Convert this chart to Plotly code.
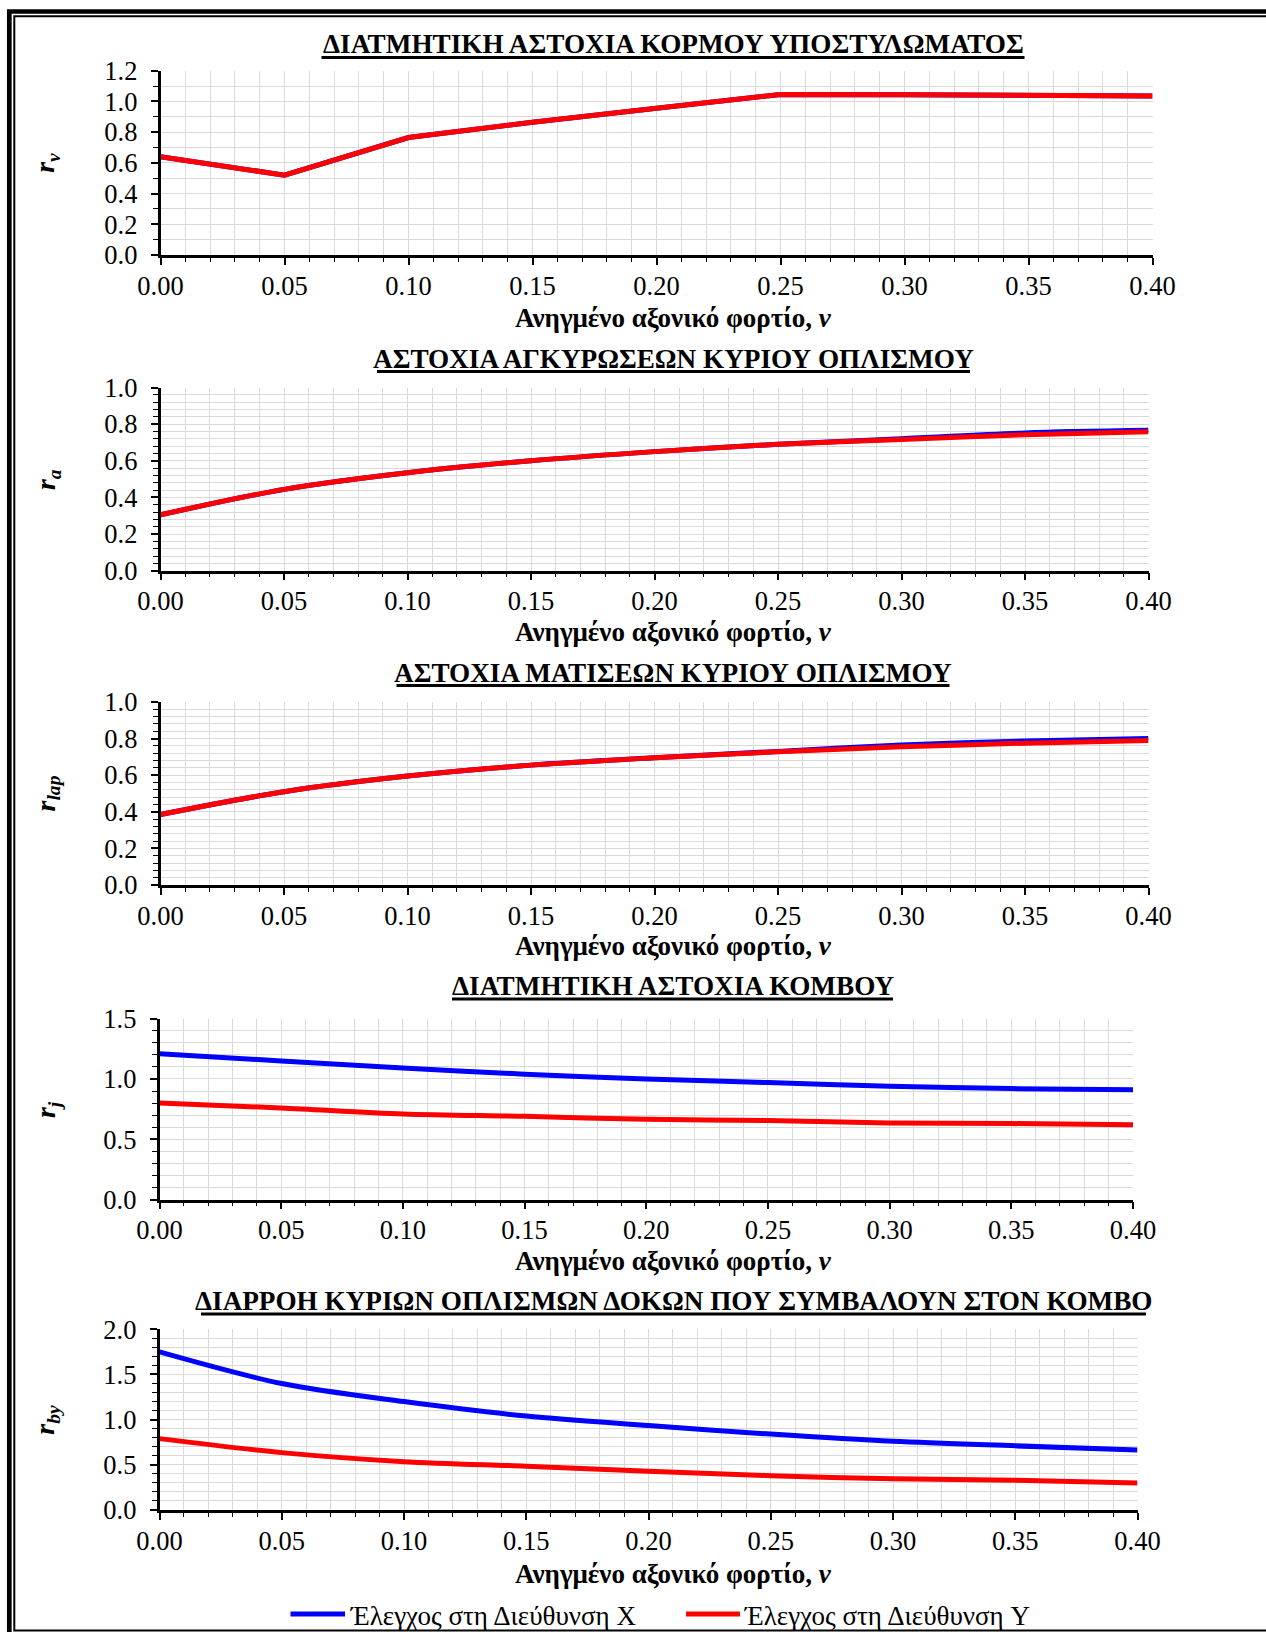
import plotly.graph_objects as go

W, H = 1266, 1632

# ---------------- data ----------------
nu = [0.00, 0.05, 0.10, 0.15, 0.20, 0.25, 0.30, 0.35, 0.40]
series_names = ["Έλεγχος στη Διεύθυνση X", "Έλεγχος στη Διεύθυνση Y"]
series_colors = ["#0000FF", "#FF0000"]

panel_titles = [
    "ΔΙΑΤΜΗΤΙΚΗ ΑΣΤΟΧΙΑ ΚΟΡΜΟΥ ΥΠΟΣΤΥΛΩΜΑΤΟΣ",
    "ΑΣΤΟΧΙΑ ΑΓΚΥΡΩΣΕΩΝ ΚΥΡΙΟΥ ΟΠΛΙΣΜΟΥ",
    "ΑΣΤΟΧΙΑ ΜΑΤΙΣΕΩΝ ΚΥΡΙΟΥ ΟΠΛΙΣΜΟΥ",
    "ΔΙΑΤΜΗΤΙΚΗ ΑΣΤΟΧΙΑ ΚΟΜΒΟΥ",
    "ΔΙΑΡΡΟΗ ΚΥΡΙΩΝ ΟΠΛΙΣΜΩΝ ΔΟΚΩΝ ΠΟΥ ΣΥΜΒΑΛΟΥΝ ΣΤΟΝ ΚΟΜΒΟ",
]
y_subscripts = ["v", "a", "lap", "j", "by"]
x_title_text = "Ανηγμένο αξονικό φορτίο, "
x_title_symbol = "ν"

rv_x = [0.640, 0.520, 0.765, 0.865, 0.955, 1.045, 1.044, 1.037, 1.035]
rv_y = [0.640, 0.520, 0.765, 0.865, 0.955, 1.045, 1.044, 1.037, 1.035]

ra_x = [0.305, 0.444, 0.535, 0.600, 0.650, 0.690, 0.720, 0.752, 0.766]
ra_y = [0.305, 0.444, 0.535, 0.600, 0.650, 0.690, 0.716, 0.742, 0.758]

rlap_x = [0.385, 0.510, 0.595, 0.655, 0.695, 0.730, 0.765, 0.787, 0.800]
rlap_y = [0.385, 0.510, 0.595, 0.655, 0.695, 0.728, 0.755, 0.775, 0.790]

rj_x = [1.21, 1.15, 1.09, 1.04, 1.00, 0.97, 0.94, 0.92, 0.91]
rj_y = [0.80, 0.76, 0.71, 0.69, 0.665, 0.655, 0.635, 0.63, 0.62]

rby_x = [1.75, 1.40, 1.20, 1.04, 0.935, 0.84, 0.76, 0.71, 0.665]
rby_y = [0.79, 0.635, 0.535, 0.485, 0.43, 0.38, 0.345, 0.33, 0.30]

panel_series = [
    (rv_x, rv_y), (ra_x, ra_y), (rlap_x, rlap_y), (rj_x, rj_y), (rby_x, rby_y)
]
y_max = [1.2, 1.0, 1.0, 1.5, 2.0]
y_major = [0.2, 0.2, 0.2, 0.5, 0.5]
y_minor = [0.1, 0.04, 0.04, 0.1, 0.1]
line_shapes = ["linear", "spline", "spline", "spline", "spline"]

# ---------------- layout geometry (pixels) ----------------
# left, right, top, bottom of each plot area; title y; x-axis title y
geom = [
    (160.5, 1152.5, 70.7, 255.0, 44.5, 318.0),
    (160.5, 1148.5, 387.5, 570.7, 358.5, 632.0),
    (160.5, 1148.5, 702.0, 885.0, 672.5, 946.0),
    (159.5, 1133.0, 1018.7, 1199.5, 986.0, 1260.5),
    (159.5, 1137.5, 1329.3, 1510.0, 1301.0, 1573.5),
]
# title underline extents (x0, x1)
underline_x = [
    (321.5, 1024.5),
    (377.0, 970.0),
    (396.5, 949.5),
    (452.0, 893.0),
    (201.0, 1146.0),
]
center_x = 673.0
ylabel_x = 47.0

FONT = "Liberation Serif"


def fx(p):
    return p / W


def fy(p):
    return 1 - p / H


fig = go.Figure()
annotations = []
shapes = []
layout_axes = {}

for i in range(5):
    L, R, T, B, ty, xty = geom[i]
    sx = "" if i == 0 else str(i + 1)
    xs, ys = panel_series[i]
    for vals, name, col in zip((xs, ys), series_names, series_colors):
        fig.add_trace(go.Scatter(
            x=nu, y=vals, mode="lines", name=name,
            line=dict(color=col, width=5, shape=line_shapes[i], smoothing=0.9),
            xaxis="x" + sx, yaxis="y" + sx, showlegend=False,
        ))
    grid = "#d9d9d9"
    layout_axes["xaxis" + sx] = dict(
        domain=[fx(L), fx(R)], anchor="y" + sx, range=[0, 0.40],
        tick0=0, dtick=0.05, tickformat=".2f",
        ticks="outside", ticklen=7, tickwidth=1.5, tickcolor="black",
        showline=True, linecolor="black", linewidth=2.5,
        showgrid=True, gridcolor=grid, gridwidth=1.3, zeroline=False,
        minor=dict(dtick=0.01, tick0=0, ticks="outside", ticklen=4, tickwidth=1.2,
                   tickcolor="black", showgrid=True, gridcolor=grid, gridwidth=1.3),
        tickfont=dict(family=FONT, size=26.5, color="black"),
        ticklabelstandoff=-2, automargin=False, fixedrange=True,
    )
    layout_axes["yaxis" + sx] = dict(
        domain=[fy(B), fy(T)], anchor="x" + sx, range=[0, y_max[i]],
        tick0=0, dtick=y_major[i], tickformat=".1f",
        ticks="outside", ticklen=7, tickwidth=1.5, tickcolor="black",
        showline=True, linecolor="black", linewidth=2.5,
        showgrid=True, gridcolor=grid, gridwidth=1.3, zeroline=False,
        minor=dict(dtick=y_minor[i], tick0=0, ticks="outside", ticklen=5, tickwidth=1.2,
                   tickcolor="black", showgrid=True, gridcolor=grid, gridwidth=1.3),
        tickfont=dict(family=FONT, size=26.5, color="black"),
        ticklabelstandoff=8, automargin=False, fixedrange=True,
    )
    # panel title (underline drawn as a separate, thicker line)
    annotations.append(dict(
        text="<b>" + panel_titles[i] + "</b>", x=fx(center_x), y=fy(ty),
        xref="paper", yref="paper", xanchor="center", yanchor="middle",
        showarrow=False, font=dict(family=FONT, size=27.2, color="black"),
    ))
    ux0, ux1 = underline_x[i]
    shapes.append(dict(type="line", xref="paper", yref="paper",
                       x0=fx(ux0), x1=fx(ux1), y0=fy(ty + 13), y1=fy(ty + 13),
                       line=dict(color="black", width=3.2)))
    # x-axis title
    annotations.append(dict(
        text="<b>" + x_title_text + "<i>" + x_title_symbol + "</i></b>",
        x=fx(center_x), y=fy(xty), xref="paper", yref="paper",
        xanchor="center", yanchor="middle", showarrow=False,
        font=dict(family=FONT, size=27, color="black"),
    ))
    # y-axis title
    annotations.append(dict(
        text="<b><i>r<sub>" + y_subscripts[i] + "</sub></i></b>",
        x=fx(ylabel_x), y=fy((T + B) / 2), xref="paper", yref="paper",
        xanchor="center", yanchor="middle", showarrow=False, textangle=-90,
        font=dict(family=FONT, size=28, color="black"),
    ))

# ---------------- legend (drawn manually) ----------------
legend_y = 1614.0
legend_items = [(290.5, 345.0, 348.0), (686.0, 740.0, 742.0)]
for (x0, x1, xt), name, col in zip(legend_items, series_names, series_colors):
    shapes.append(dict(type="line", xref="paper", yref="paper",
                       x0=fx(x0), x1=fx(x1), y0=fy(legend_y), y1=fy(legend_y),
                       line=dict(color=col, width=5)))
    annotations.append(dict(
        text=name, x=fx(xt), y=fy(legend_y + 2), xref="paper", yref="paper",
        xanchor="left", yanchor="middle", showarrow=False,
        font=dict(family=FONT, size=27, color="black"),
    ))

# ---------------- frame ----------------
shapes.append(dict(type="rect", xref="paper", yref="paper",
                   x0=fx(9.3), x1=fx(1300), y0=fy(11.5), y1=fy(1660),
                   line=dict(color="black", width=4.7), fillcolor="rgba(0,0,0,0)"))
shapes.append(dict(type="rect", xref="paper", yref="paper",
                   x0=fx(14.3), x1=fx(1300), y0=fy(16.3), y1=fy(1630.5),
                   line=dict(color="black", width=2), fillcolor="rgba(0,0,0,0)"))

fig.update_layout(
    width=W, height=H, autosize=False,
    margin=dict(l=0, r=0, t=0, b=0, pad=0, autoexpand=False),
    paper_bgcolor="white", plot_bgcolor="white",
    showlegend=False,
    annotations=annotations, shapes=shapes,
    **layout_axes,
)

fig.write_html("out.html", config={"displayModeBar": False})
